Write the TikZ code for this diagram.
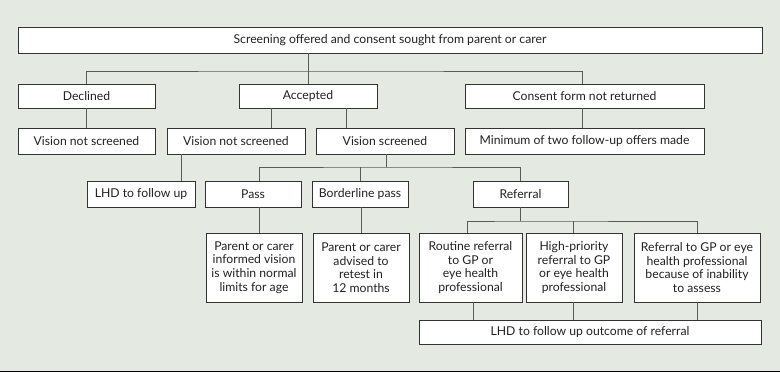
\documentclass[tikz,border=0pt]{standalone}
\usepackage{fontspec}
\setmainfont{Lato}
\definecolor{bgc}{HTML}{E4EAE1}
\definecolor{linec}{HTML}{5A5A5A}
\definecolor{boxc}{HTML}{333333}
\definecolor{txtc}{HTML}{222222}
\begin{document}
\begin{tikzpicture}[x=1pt,y=-1pt,
  box/.style={draw=boxc, line width=0.9pt, fill=white, inner sep=0pt, text=txtc,
     font=\fontsize{12.2}{13.6}\selectfont, align=center, minimum height=26pt},
  tall/.style={box, minimum height=69pt},
  conn/.style={draw=linec, line width=1pt}]
\fill[bgc] (0,0) rectangle (780,372);
\useasboundingbox (0,0) rectangle (780,372);
\fill[black] (0,370.5) rectangle (780,372);

\node[box, minimum width=744pt] (top) at (390,40) {Screening offered and consent sought from parent or carer};
\node[box, minimum width=137pt, minimum height=24pt] (decl) at (86.5,96) {Declined};
\node[box, minimum width=138pt, minimum height=24pt] (acc) at (308,96) {Accepted};
\node[box, minimum width=239pt, minimum height=24pt] (cons) at (584.5,96) {Consent form not returned};
\node[box, minimum width=137pt] (vns1) at (86.5,141) {Vision not screened};
\node[box, minimum width=138pt] (vns2) at (236,141) {Vision not screened};
\node[box, minimum width=138pt] (vs) at (385,141) {Vision screened};
\node[box, minimum width=239pt] (minf) at (584.5,141) {Minimum of two follow-up offers made};
\node[box, minimum width=108pt] (lhda) at (141,194) {LHD to follow up};
\node[box, minimum width=96pt] (pass) at (253,194) {Pass};
\node[box, minimum width=96pt] (bord) at (360,194) {Borderline pass};
\node[box, minimum width=95pt] (ref) at (520.5,194) {Referral};
\node[tall, minimum width=96pt] (p1) at (254,267.5) {Parent or carer\\informed vision\\is within normal\\limits for age};
\node[tall, minimum width=96pt] (p2) at (361,267.5) {Parent or carer\\advised to\\retest in\\12 months};
\node[tall, minimum width=103pt] (r1) at (470.5,267.5) {Routine referral\\to GP or\\eye health\\professional};
\node[tall, minimum width=96pt] (r2) at (574,267.5) {High-priority\\referral to GP\\or eye health\\professional};
\node[tall, minimum width=126pt] (r3) at (697,267.5) {Referral to GP or eye\\health professional\\because of inability\\to assess};
\node[box, minimum width=342pt, minimum height=24pt] (lhdb) at (590,332) {LHD to follow up outcome of referral};

\coordinate (ja) at (308,71);
\coordinate (jb) at (386,167);
\coordinate (jc) at (521,221);

% level 1
\draw[conn] (top.south -| acc.north) -- (acc.north);
\draw[conn] (decl.north) |- (ja) -| ([xshift=-2.5pt]cons.north);
% level 2
\draw[conn] (decl.south) -- (vns1.north);
\draw[conn] ([xshift=33pt]acc.south west) -- ([xshift=33pt]acc.south west |- vns2.north);
\draw[conn] ([xshift=-31pt]acc.south east) -- ([xshift=-31pt]acc.south east |- vs.north);
\draw[conn] ([xshift=-2.5pt]cons.south) -- ([xshift=-2.5pt]minf.north);
% level 3
\draw[conn] ([xshift=15pt]vns2.south west) -- ([xshift=15pt]vns2.south west |- lhda.north);
\draw[conn] ([xshift=1pt]vs.south) -- (jb);
\draw[conn] ([xshift=6pt]pass.north) |- (jb) -| (ref.north);
\draw[conn] (bord.north) -- (bord.north |- jb);
% level 4
\draw[conn] ([xshift=6pt]pass.south) -- ([xshift=6pt]pass.south |- p1.north);
\draw[conn] ([xshift=1pt]bord.south) -- ([xshift=1pt]bord.south |- p2.north);
\draw[conn] (ref.south) -- (ref.south |- jc);
\draw[conn] ([xshift=-3.5pt]r1.north) |- (jc) -| (r3.north);
\draw[conn] ([xshift=-1pt]r2.north) -- ([xshift=-1pt]r2.north |- jc);
% level 5
\draw[conn] ([xshift=2.5pt]r1.south) -- ([xshift=2.5pt]r1.south |- lhdb.north);
\draw[conn] ([xshift=-1pt]r2.south) -- ([xshift=-1pt]r2.south |- lhdb.north);
\draw[conn] (r3.south) -- (r3.south |- lhdb.north);
\end{tikzpicture}
\end{document}
